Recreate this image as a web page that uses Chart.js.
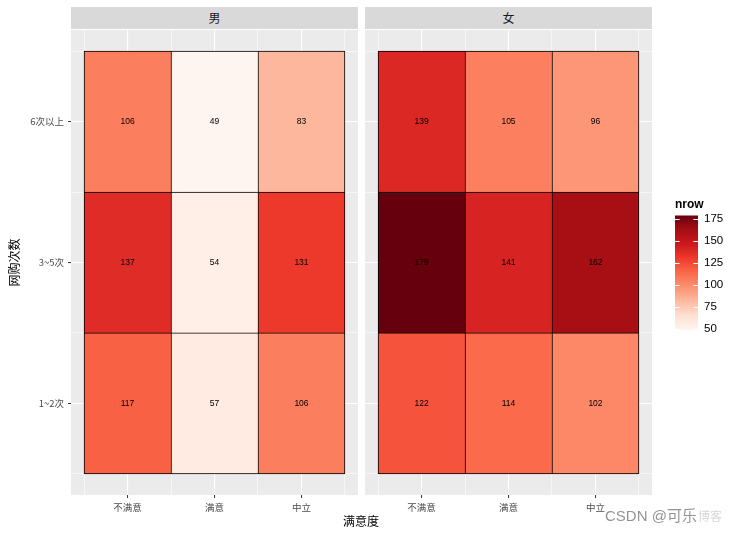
<!DOCTYPE html>
<html>
<head>
<meta charset="utf-8">
<script src="https://cdn.jsdelivr.net/npm/chart.js@4.4.0/dist/chart.umd.min.js"></script>
<style>
  body { margin: 0; background: #fff; }
  #wrap { position: relative; width: 739px; height: 535px; overflow: hidden;
          font-family: "Noto Sans CJK SC", "Liberation Sans", sans-serif; }
  .box { position: absolute; }
  .strip { position: absolute; top: 7px; width: 287px; height: 22px; background: #D9D9D9;
           color: #1A1A1A; font-size: 12px; line-height: 22px; text-align: center; }
  #xtitle { position: absolute; left: 311px; top: 513px; width: 100px; text-align: center;
            font-size: 12px; line-height: 16px; color: #000; }
  #mark { position: absolute; left: 605px; top: 506px; font-size: 15px; line-height: 20px;
          color: rgba(120,120,120,0.8); font-family: "Liberation Sans", "Noto Sans CJK SC", sans-serif; white-space: nowrap; }
  #mark span { color: rgba(180,180,180,0.55); font-size: 12px; margin-left: 1px; }
</style>
</head>
<body>
<div id="wrap">
  <div class="box" style="left:0;top:0;width:360px;height:535px"><canvas id="male"></canvas></div>
  <div class="box" style="left:360px;top:0;width:300px;height:535px"><canvas id="female"></canvas></div>
  <div class="box" style="left:672px;top:197px;width:67px;height:146px"><canvas id="legend"></canvas></div>
  <div class="strip" id="strip0" style="left:71px"></div>
  <div class="strip" id="strip1" style="left:365px"></div>
  <div id="xtitle">满意度</div>
  <div id="mark">CSDN @可乐<span>博客</span></div>
</div>
<script>
// data
const satisfaction = ['不满意', '满意', '中立'];
const frequency = ['1~2次', '3~5次', '6次以上'];
const genders = ['男', '女'];

// counts per frequency row, in satisfaction order
const male_1to2 = [117, 57, 106];
const male_3to5 = [137, 54, 131];
const male_6plus = [106, 49, 83];
const female_1to2 = [122, 114, 102];
const female_3to5 = [179, 141, 162];
const female_6plus = [139, 105, 96];

const legendTicks = [50, 75, 100, 125, 150, 175];

const REDS9 = ['#FFF5F0', '#FEE0D2', '#FCBBA1', '#FC9272', '#FB6A4A', '#EF3B2C', '#CB181D', '#A50F15', '#67000D'];

const allCounts = [].concat(male_1to2, male_3to5, male_6plus, female_1to2, female_3to5, female_6plus);
const fillMin = Math.min(...allCounts);
const fillMax = Math.max(...allCounts);

const CJK = '"Noto Sans CJK SC", "Liberation Sans", sans-serif';
const LAT = '"Liberation Sans", Arial, sans-serif';

function hexToRgb(h) {
  return [1, 3, 5].map(i => parseInt(h.slice(i, i + 2), 16));
}
function fillColor(v) {
  const t = (v - fillMin) / (fillMax - fillMin) * (REDS9.length - 1);
  const i = Math.min(Math.floor(t), REDS9.length - 2);
  const f = t - i;
  const a = hexToRgb(REDS9[i]), b = hexToRgb(REDS9[i + 1]);
  return 'rgb(' + a.map((x, k) => Math.round(x + (b[k] - x) * f)).join(',') + ')';
}

document.getElementById('strip0').textContent = genders[0];
document.getElementById('strip1').textContent = genders[1];

// grey panel background
const panelBg = {
  id: 'panelBg',
  beforeDraw(chart) {
    const { ctx, chartArea: a } = chart;
    ctx.save();
    ctx.fillStyle = '#EBEBEB';
    ctx.fillRect(a.left, a.top, a.width, a.height);
    ctx.restore();
  }
};

// count labels in the middle of each tile
const cellLabels = {
  id: 'cellLabels',
  afterDatasetsDraw(chart) {
    const c = chart.ctx;
    c.save();
    c.font = '8.5px ' + LAT;
    c.fillStyle = '#000';
    c.textAlign = 'center';
    c.textBaseline = 'middle';
    chart.data.datasets.forEach((ds, di) => {
      chart.getDatasetMeta(di).data.forEach((bar, i) => {
        const p = bar.getCenterPoint();
        c.fillText(String(ds.data[i].n), p.x, p.y);
      });
    });
    c.restore();
  }
};

// short white tick marks on both edges of the colourbar
const barTicks = {
  id: 'barTicks',
  afterDatasetsDraw(chart) {
    const { ctx, chartArea: a, scales } = chart;
    const len = a.width / 5;
    ctx.save();
    ctx.strokeStyle = '#fff';
    ctx.lineWidth = 1;
    legendTicks.forEach(v => {
      const y = Math.round(scales.y.getPixelForValue(v)) + 0.5;
      ctx.beginPath();
      ctx.moveTo(a.left, y); ctx.lineTo(a.left + len, y);
      ctx.moveTo(a.right - len, y); ctx.lineTo(a.right, y);
      ctx.stroke();
    });
    ctx.restore();
  }
};

const lo = 0.35, hi = satisfaction.length + 0.65;
const majorVals = satisfaction.map((s, i) => i + 1);
const minorVals = [0].concat(majorVals).map(v => v + 0.5);
const isMajor = c => c.tick && Number.isInteger(c.tick.value);

function panelDatasets(rows) {
  return rows.map((vals, r) => ({
    data: vals.map((v, i) => ({ x: i + 1, y: [r + 0.5, r + 1.5], n: v })),
    backgroundColor: vals.map(fillColor),
    borderColor: '#000',
    borderWidth: ctx => ({
      left: 1, top: 1,
      right: ctx.dataIndex === vals.length - 1 ? 1 : 0,
      bottom: r === 0 ? 1 : 0
    }),
    borderSkipped: false,
    grouped: false,
    barPercentage: 1,
    categoryPercentage: 1
  }));
}

function makePanel(id, rows, showY) {
  return new Chart(id, {
    type: 'bar',
    data: { datasets: panelDatasets(rows) },
    options: {
      responsive: true,
      maintainAspectRatio: false,
      animation: false,
      layout: { padding: showY ? { top: 30, right: 2, left: 0, bottom: 0 } : { top: 30, right: 8, left: 5, bottom: 0 } },
      plugins: { legend: { display: false }, tooltip: { enabled: false } },
      scales: {
        x: {
          type: 'linear', min: lo, max: hi, offset: false,
          afterBuildTicks: s => { s.ticks = majorVals.map(v => ({ value: v })); },
          afterFit: s => { s.height = 40; },
          ticks: {
            autoSkip: false, maxRotation: 0, padding: 4, color: '#4D4D4D',
            font: { family: CJK, size: 9.5 },
            callback: v => satisfaction[v - 1]
          },
          grid: { offset: false, color: '#fff', lineWidth: 1.1, tickLength: 3, tickWidth: 1, tickColor: '#333' },
          border: { display: false }
        },
        xMinor: {
          type: 'linear', axis: 'x', position: 'bottom', min: lo, max: hi, offset: false,
          afterBuildTicks: s => { s.ticks = minorVals.map(v => ({ value: v })); },
          afterFit: s => { s.height = 0; },
          ticks: { display: false },
          grid: { offset: false, color: '#fff', lineWidth: 0.55, drawTicks: false },
          border: { display: false }
        },
        y: {
          type: 'linear', min: lo, max: hi,
          afterBuildTicks: s => { s.ticks = minorVals.concat(majorVals).sort((a, b) => a - b).map(v => ({ value: v })); },
          afterFit: s => { s.width = showY ? 71 : 0; },
          ticks: {
            display: showY, autoSkip: false, padding: 4, color: '#4D4D4D',
            font: { family: CJK, size: 9.5 },
            callback: v => Number.isInteger(v) ? frequency[v - 1] : ''
          },
          title: {
            display: showY, text: '网购次数', color: '#000',
            font: { family: CJK, size: 12 }, padding: { top: 7, bottom: 0 }
          },
          grid: {
            color: '#fff',
            lineWidth: c => isMajor(c) ? 1.1 : 0.55,
            drawTicks: showY, tickLength: 3, tickWidth: 1,
            tickColor: c => isMajor(c) ? '#333' : 'rgba(0,0,0,0)'
          },
          border: { display: false }
        }
      }
    },
    plugins: [panelBg, cellLabels]
  });
}

makePanel('male', [male_1to2, male_3to5, male_6plus], true);
makePanel('female', [female_1to2, female_3to5, female_6plus], false);

// colourbar legend
new Chart('legend', {
  type: 'bar',
  data: {
    labels: [''],
    datasets: [{
      data: [[fillMin, fillMax]],
      backgroundColor: ctx => {
        const ch = ctx.chart;
        if (!ch.chartArea) return REDS9[4];
        const y = ch.scales.y;
        const g = ch.ctx.createLinearGradient(0, y.getPixelForValue(fillMin), 0, y.getPixelForValue(fillMax));
        REDS9.forEach((col, i) => g.addColorStop(i / (REDS9.length - 1), col));
        return g;
      },
      borderWidth: 0,
      barPercentage: 1,
      categoryPercentage: 1
    }]
  },
  options: {
    responsive: true,
    maintainAspectRatio: false,
    animation: false,
    layout: { padding: { left: 3, right: 0, top: 0, bottom: 8 } },
    plugins: {
      legend: { display: false },
      tooltip: { enabled: false },
      title: {
        display: true, text: 'nrow', align: 'start', color: '#000',
        font: { family: LAT, size: 12, weight: 'bold' }, padding: { top: 0, bottom: 4 }
      }
    },
    scales: {
      x: { display: false },
      y: {
        position: 'right', min: fillMin, max: fillMax,
        afterBuildTicks: s => { s.ticks = legendTicks.map(v => ({ value: v })); },
        afterFit: s => { s.width = 41; },
        ticks: { color: '#000', padding: 6, font: { family: LAT, size: 11.5 } },
        grid: { display: false, drawTicks: false },
        border: { display: false }
      }
    }
  },
  plugins: [barTicks]
});
</script>
</body>
</html>
